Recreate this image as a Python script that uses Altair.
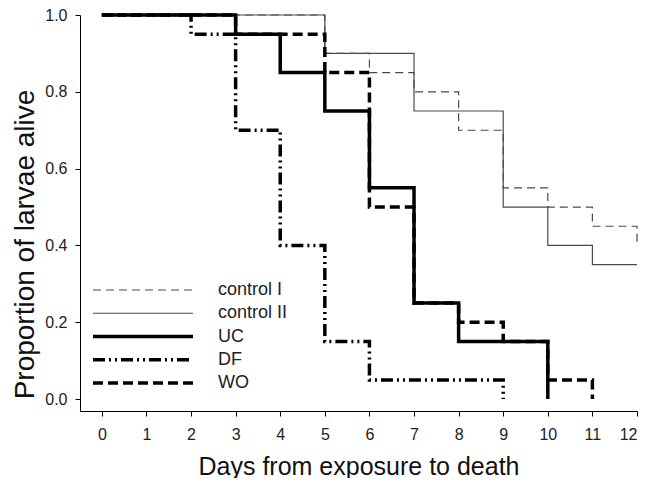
import altair as alt
import pandas as pd

series_names = ["control I", "control II", "UC", "DF", "WO"]

days_ctrl1 = [0, 5, 6, 7, 8, 9, 10, 11, 12]
surv_ctrl1 = [1.0, 0.90, 0.85, 0.80, 0.70, 0.55, 0.50, 0.45, 0.40]

days_ctrl2 = [0, 5, 7, 9, 10, 11, 12]
surv_ctrl2 = [1.0, 0.90, 0.75, 0.50, 0.40, 0.35, 0.35]

days_uc = [0, 3, 4, 5, 6, 7, 8, 10]
surv_uc = [1.0, 0.95, 0.85, 0.75, 0.55, 0.25, 0.15, 0.0]

days_df = [0, 2, 3, 4, 5, 6, 9]
surv_df = [1.0, 0.95, 0.70, 0.40, 0.15, 0.05, 0.0]

days_wo = [0, 3, 5, 6, 7, 8, 9, 10, 11]
surv_wo = [1.0, 0.95, 0.85, 0.50, 0.25, 0.20, 0.15, 0.05, 0.0]

x_ticks = list(range(0, 13))
y_ticks = [0.0, 0.2, 0.4, 0.6, 0.8, 1.0]

rows = []
for name, d, s in [
    ("control I", days_ctrl1, surv_ctrl1),
    ("control II", days_ctrl2, surv_ctrl2),
    ("UC", days_uc, surv_uc),
    ("DF", days_df, surv_df),
    ("WO", days_wo, surv_wo),
]:
    for i, (xx, yy) in enumerate(zip(d, s)):
        rows.append({"series": name, "day": xx, "surv": yy, "idx": i})
df = pd.DataFrame(rows)

leg = pd.DataFrame({"series": series_names, "row": list(range(len(series_names)))})

FONT = "Liberation Sans"

color_scale = alt.Scale(domain=series_names,
                        range=["#4a4a4a", "#4a4a4a", "#000000", "#000000", "#000000"])
dash_scale = alt.Scale(domain=series_names,
                       range=[[8, 5], [1, 0], [1, 0], [12, 4, 2, 4, 2, 4], [10, 5]])
width_scale = alt.Scale(type="ordinal", domain=series_names,
                        range=[1.2, 1.2, 3.5, 3.5, 3.5])

lines = alt.Chart(df).mark_line(interpolate="step-after", strokeCap="butt").encode(
    x=alt.X("day:Q",
            scale=alt.Scale(domain=[-0.49, 12], nice=False, zero=False),
            axis=alt.Axis(values=x_ticks, title="Days from exposure to death",
                          format="d", titleFontSize=25, titlePadding=12,
                          labelPadding=10)),
    y=alt.Y("surv:Q",
            scale=alt.Scale(domain=[-0.031, 1.0], nice=False, zero=False),
            axis=alt.Axis(values=y_ticks, title="Proportion of larvae alive",
                          format=".1f", titleFontSize=28, titlePadding=5,
                          titleY=229, labelPadding=8)),
    color=alt.Color("series:N", scale=color_scale, legend=None),
    strokeDash=alt.StrokeDash("series:N", scale=dash_scale, legend=None),
    strokeWidth=alt.StrokeWidth("series:O", scale=width_scale, legend=None),
    order="idx:Q",
    detail="series:N",
)

leg_y = alt.Y("row:Q", scale=alt.Scale(domain=[0, 4], range=[275, 368]), axis=None)

leg_lines = alt.Chart(leg).mark_rule(strokeCap="butt").encode(
    x=alt.value(13), x2=alt.value(113), y=leg_y,
    color=alt.Color("series:N", scale=color_scale, legend=None),
    strokeDash=alt.StrokeDash("series:N", scale=dash_scale, legend=None),
    strokeWidth=alt.StrokeWidth("series:O", scale=width_scale, legend=None),
)

leg_text = alt.Chart(leg).mark_text(align="left", baseline="middle", font=FONT,
                                    fontSize=18, color="#222222").encode(
    x=alt.value(138), y=leg_y, text="series:N",
)

chart = alt.layer(lines, leg_lines, leg_text).resolve_scale(y="independent").properties(
    width=557, height=396,
    autosize=alt.AutoSizeParams(type="none"),
    padding={"left": 72, "top": 7, "right": 8, "bottom": 67},
    background="white",
).configure_view(strokeWidth=0).configure_axis(
    grid=False, domainColor="#000000", domainWidth=1, tickColor="#000000",
    tickSize=5, tickWidth=1, labelFont=FONT, labelFontSize=16, labelColor="#222222",
    titleFont=FONT, titleFontWeight="normal", titleColor="#111111",
)

chart.save("out.html", embed_options={"renderer": "svg", "actions": False})
